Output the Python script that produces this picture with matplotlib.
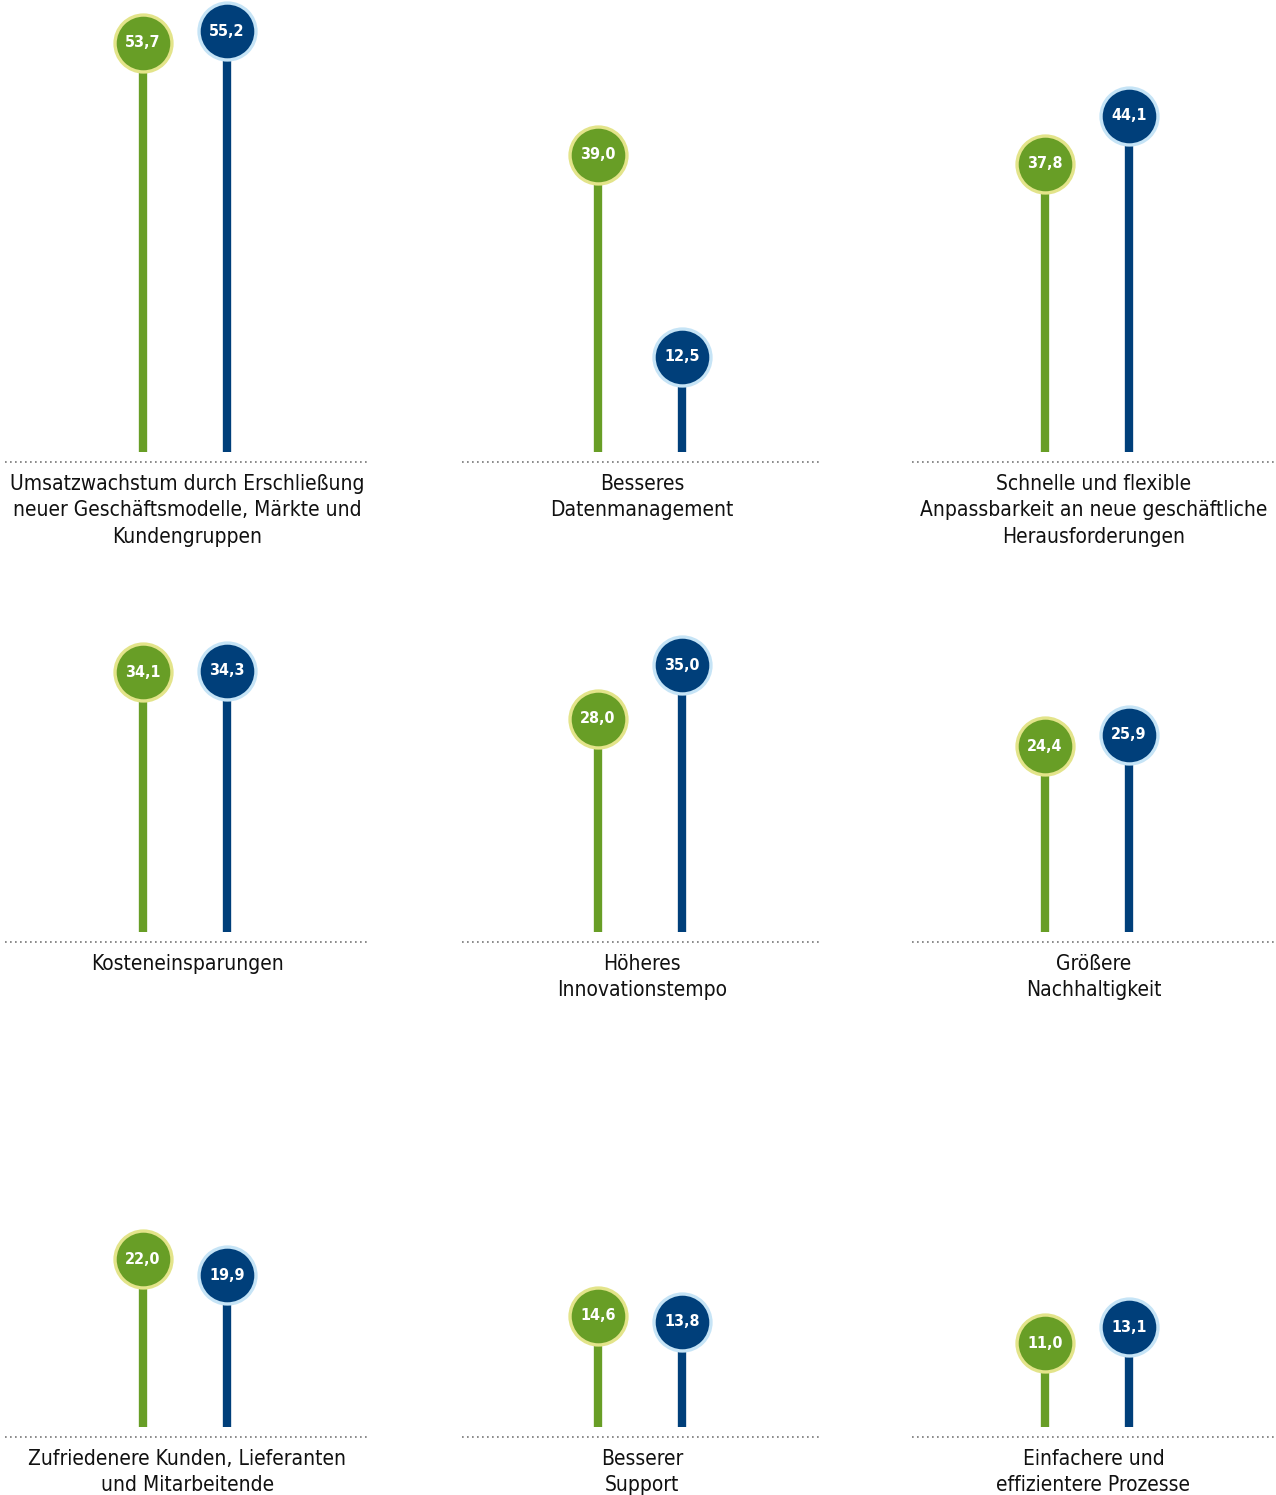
import matplotlib
matplotlib.use("Agg")
import matplotlib.pyplot as plt

categories = [
    "Umsatzwachstum durch Erschließung\nneuer Geschäftsmodelle, Märkte und\nKundengruppen",
    "Besseres\nDatenmanagement",
    "Schnelle und flexible\nAnpassbarkeit an neue geschäftliche\nHerausforderungen",
    "Kosteneinsparungen",
    "Höheres\nInnovationstempo",
    "Größere\nNachhaltigkeit",
    "Zufriedenere Kunden, Lieferanten\nund Mitarbeitende",
    "Besserer\nSupport",
    "Einfachere und\neffizientere Prozesse",
]
green_vals = [53.7, 39.0, 37.8, 34.1, 28.0, 24.4, 22.0, 14.6, 11.0]
blue_vals = [55.2, 12.5, 44.1, 34.3, 35.0, 25.9, 19.9, 13.8, 13.1]

GREEN = "#689e26"
GREEN_EDGE = "#e3e48a"
BLUE = "#003f7a"
BLUE_EDGE = "#c6e4f6"

W, H = 1276, 1495
fig = plt.figure(figsize=(W / 100, H / 100), dpi=100)

col_x = [(5, 370), (462, 822), (912, 1275)]
col_left = [138, 136, 133]  # green stem offset from panel left, px
row_base = [462, 942, 1437]
ax_h = 462
px_per_unit = 7.62
gap = 10  # pixels between stem end and dotted line
ybot = -gap / px_per_unit
ytop = ybot + ax_h / px_per_unit

for i, label in enumerate(categories):
    r, c = divmod(i, 3)
    x0, x1 = col_x[c]
    base = row_base[r]
    ax = fig.add_axes([x0 / W, 1 - base / H, (x1 - x0) / W, ax_h / H])
    # green at 0, blue at 1
    step = 84
    left = col_left[c]
    ax.set_xlim(-left / step, (x1 - x0 - left) / step)
    ax.set_ylim(ybot, ytop)
    ax.axis("off")

    g, b = green_vals[i], blue_vals[i]
    ax.vlines([0], 0, g, color=GREEN, lw=6, zorder=1)
    ax.vlines([1], 0, b, color=BLUE, lw=6, zorder=1)
    ax.scatter([0], [g], s=1680, color=GREEN, edgecolor=GREEN_EDGE, lw=2.4, zorder=3)
    ax.scatter([1], [b], s=1680, color=BLUE, edgecolor=BLUE_EDGE, lw=2.4, zorder=3)
    for xv, v in ((0, g), (1, b)):
        ax.text(xv, v, f"{v:.1f}".replace(".", ","), color="white", fontsize=11.5,
                fontweight="bold", fontstretch="condensed", ha="center", va="center", zorder=4)

    ax.axhline(ybot, color="#777777", lw=1.2, ls=(0, (1, 2)), clip_on=False)
    ax.annotate(label, xy=(0.5, 0), xycoords="axes fraction", xytext=(0, -8.5),
                textcoords="offset points", ha="center", va="top", fontsize=15,
                fontstretch="condensed", color="#111111", linespacing=1.4)

fig.savefig("out.png", dpi=100)
